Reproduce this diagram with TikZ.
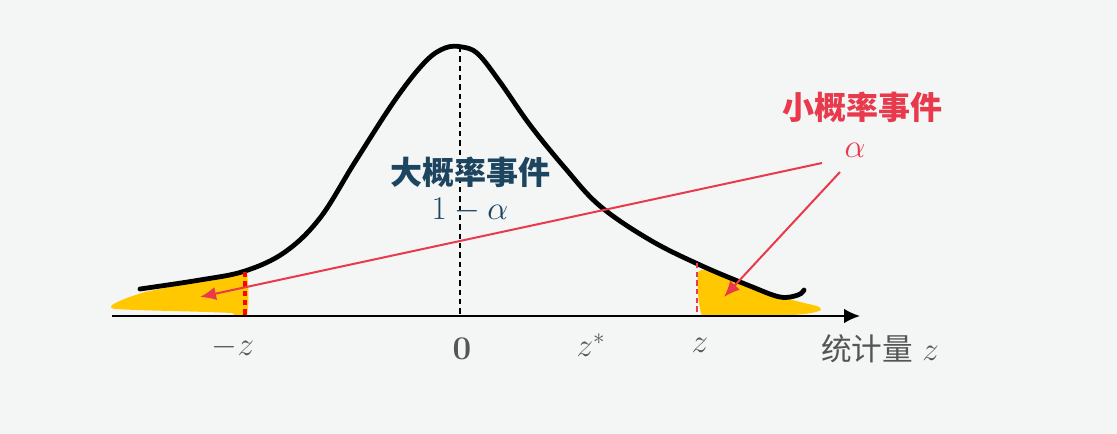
\documentclass[tikz,border=0pt]{standalone}
\usepackage{fontspec}
\usepackage{amsmath}
\newfontfamily\cjk{Noto Sans CJK SC}
\usetikzlibrary{arrows.meta}
\definecolor{bg}{HTML}{F4F6F5}
\definecolor{gold}{HTML}{FFC800}
\definecolor{redl}{HTML}{E83A4C}
\definecolor{navy}{HTML}{1E4560}
\definecolor{greyt}{HTML}{555555}
\tikzset{
  curve/.style={line width=3.6pt, line cap=round, line join=round},
  redarrow/.style={draw=redl, line width=1.5pt, -{Latex[length=12pt,width=10pt]}},
  axislab/.style={text=greyt, font=\fontsize{23}{25}\selectfont, inner sep=0pt},
}
\begin{document}
\begin{tikzpicture}[x=0.75pt,y=-0.75pt]
\fill[bg] (0,0) rectangle (1117,434);
\useasboundingbox (0,0) rectangle (1117,434);
% yellow tails
\fill[gold] (112,305) .. controls (120,300) and (132,296) .. (145,292)
  .. controls (180,285) and (215,278) .. (240,271)
  -- (247,273) .. controls (249,290) and (249,305) .. (247,314)
  .. controls (245,318) and (238,318) .. (232,313)
  .. controls (190,311) and (150,311) .. (115,309)
  .. controls (110,308) and (110,306) .. (112,305) -- cycle;
\fill[gold] (698,272) .. controls (702,268) and (708,270) .. (715,272)
  .. controls (745,283) and (775,296) .. (800,302)
  .. controls (812,305) and (822,306) .. (821,310)
  .. controls (815,314) and (790,316) .. (760,316)
  -- (702,316) .. controls (698,305) and (697,285) .. (698,272) -- cycle;
% black curve
\draw[curve] plot[smooth, tension=0.6] coordinates {
  (140,289) (200,280) (245,271) (285,252) (320,218) (355,162) (395,100)
  (425,62) (445,48) (462,47) (478,54) (500,82) (530,125) (565,168) (600,206)
  (650,240) (700,265) (750,286) (780,297) (798,295) (804,290)};
% red boundary lines
\coordinate (lt) at (245,272); \coordinate (lb) at (245,316);
\draw[red, line width=3pt, dash pattern=on 4pt off 3pt] (lt) -- (lb);
\coordinate (rt) at (697,263); \coordinate (rb) at (697,316);
\draw[redl, line width=0.8pt, dash pattern=on 4pt off 2.5pt] (rt) -- (rb);
% axis
\coordinate (ax0) at (112,316); \coordinate (ax1) at (860,316);
\draw[line width=1.4pt, -{Latex[length=12pt,width=11pt]}] (ax0) -- (ax1);
% center dashed
\coordinate (ct) at (460,47); \coordinate (cb) at (460,316);
\draw[line width=0.8pt, dash pattern=on 4pt off 3pt] (ct) -- (cb);
% labels
\node[text=navy, font=\cjk\bfseries\fontsize{24}{26}\selectfont, inner sep=0pt] (big) at (470,172) {大概率事件};
\node[text=navy, font=\fontsize{25}{27}\selectfont, inner sep=0pt] (bigm) at (470,210) {$1-\alpha$};
\node[text=redl, font=\cjk\bfseries\fontsize{24}{26}\selectfont, inner sep=0pt] (small) at (862,107) {小概率事件};
\node[text=redl, font=\fontsize{27}{29}\selectfont, inner sep=0pt] (alpha) at (855,150) {$\alpha$};
% arrows
\coordinate (a1s) at (822,163); \coordinate (a1e) at (200,297);
\draw[redarrow] (a1s) -- (a1e);
\coordinate (a2s) at (840,172); \coordinate (a2e) at (724,297);
\draw[redarrow] (a2s) -- (a2e);
% axis labels
\node[axislab] (mz) at (233,347) {$-z$};
\node[axislab] (zero) at (462,349) {$\boldsymbol{0}$};
\node[axislab] (zs) at (591,345) {$z^*$};
\node[axislab] (zz) at (700,345) {$z$};
\node[axislab] (stat) at (880,349) {{\cjk 统计量} $z$};
\end{tikzpicture}
\end{document}
